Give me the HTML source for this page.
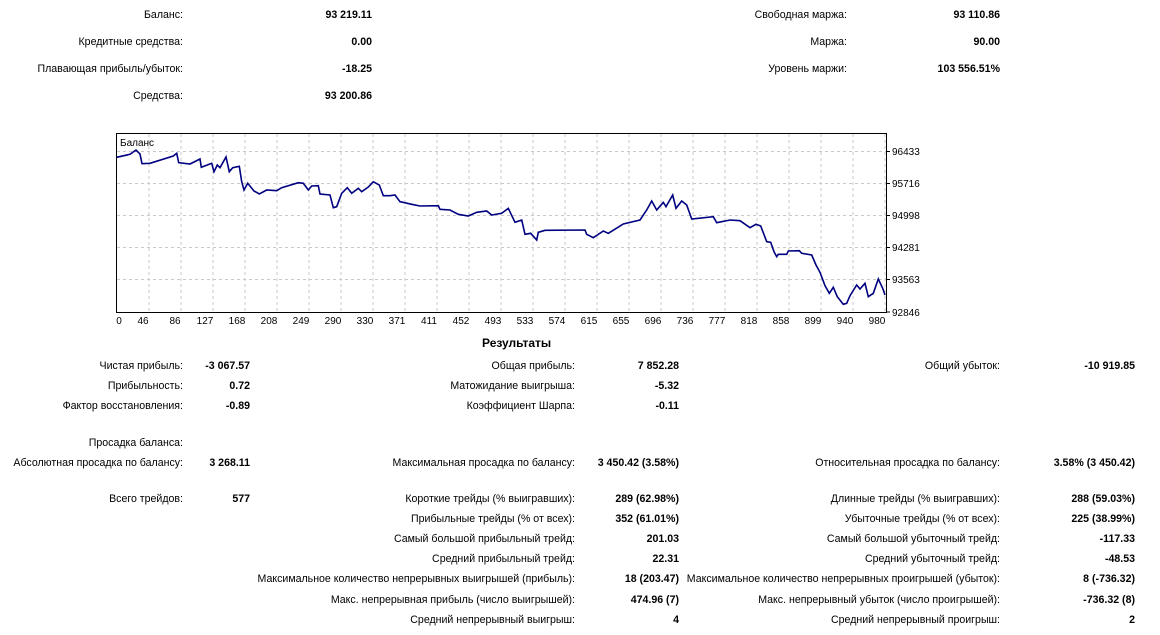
<!DOCTYPE html>
<html><head><meta charset="utf-8"><style>
body{margin:0;width:1160px;height:635px;background:#fff;position:relative;overflow:hidden;font-family:"Liberation Sans","DejaVu Sans",sans-serif;font-size:10.6px;color:#000}
.t{position:absolute;white-space:nowrap;line-height:14px;text-align:right}
.b{font-weight:bold}
</style></head><body>
<div class="t" style="right:977px;top:8px">Баланс:</div><div class="t b" style="right:788px;top:8px">93 219.11</div>
<div class="t" style="right:977px;top:35px">Кредитные средства:</div><div class="t b" style="right:788px;top:35px">0.00</div>
<div class="t" style="right:977px;top:62px">Плавающая прибыль/убыток:</div><div class="t b" style="right:788px;top:62px">-18.25</div>
<div class="t" style="right:977px;top:89px">Средства:</div><div class="t b" style="right:788px;top:89px">93 200.86</div>
<div class="t" style="right:313px;top:8px">Свободная маржа:</div><div class="t b" style="right:160px;top:8px">93 110.86</div>
<div class="t" style="right:313px;top:35px">Маржа:</div><div class="t b" style="right:160px;top:35px">90.00</div>
<div class="t" style="right:313px;top:62px">Уровень маржи:</div><div class="t b" style="right:160px;top:62px">103 556.51%</div>

<svg style="position:absolute;left:0;top:0" width="1160" height="340">
<g stroke="#c8c8c8" stroke-dasharray="3,3" stroke-width="1">
<path d="M149 134V312M181 134V312M213 134V312M245 134V312M277 134V312M309 134V312M341 134V312M373 134V312M405 134V312M437 134V312M469 134V312M501 134V312M533 134V312M565 134V312M597 134V312M629 134V312M661 134V312M693 134V312M725 134V312M757 134V312M789 134V312M821 134V312M853 134V312M885 134V312"/>
<path d="M117 151.5H887M117 183.5H887M117 215.5H887M117 247.5H887M117 279.5H887"/>
</g>
<rect x="116.5" y="133.5" width="770" height="179" fill="none" stroke="#000"/>
<g stroke="#000"><path d="M887 151.5h3M887 183.5h3M887 215.5h3M887 247.5h3M887 279.5h3M887 312h3"/></g>
<text x="120" y="146" font-size="10" font-family="Liberation Sans,sans-serif">Баланс</text>
<polyline fill="none" stroke="#000080" stroke-width="1.6" points="116.7,157.3 130,154.3 136,150 140,154 142,163.7 150,163.3 173.3,156 176.7,153.3 178.7,162.7 190,164 200,159 201.3,167.3 211.7,163.3 214,171.7 217.3,165 220,167.7 226,157 229.3,171.7 232.7,167.7 239.3,166.3 241.7,181.7 244,190 247.7,183.3 254,191 259.3,194 266.7,190 276.7,190.7 281.7,187.7 298.3,182.7 303.3,183.3 308.3,190 311.7,186 318.3,185.7 320,194 330,195 333.3,207.7 336.7,206.7 341.7,193.3 347.3,187.7 351.7,193.3 358.3,188.3 361.7,191.7 368.3,187 373.3,181.7 379.3,185 383.3,195.7 390,195.7 395,195 400,201.7 411.7,204.3 420,206 438.3,205.7 440,209.3 450,210 458.3,214.3 468.3,216 476.7,212.3 486.7,211 491.7,215 501.7,213.3 508.3,208.3 515,222.3 521.7,220 525,234.3 530.7,233.3 536.7,240 538.3,232.3 545,230.3 585,230 586.7,234.3 593.3,237.7 603.3,231 608.3,233.3 623.3,224 640,220 646.7,210 651.7,201 656.7,210 663.3,202.3 666,206.7 672.7,195 676,208.3 681.7,201 686.7,205 691.7,219 713.3,216.7 716.7,222.7 730,220 740,220.7 750,227.7 756,224.3 760.7,226 766.7,241.7 770.7,242.3 774,251.7 776.7,256.7 778.3,254.3 786.7,254.3 788.3,251 799.3,250.7 801.7,253.3 811.7,255 816,265 820,272.3 825,285.7 829.3,293.3 833.3,287.3 837.3,296.7 843.3,304.3 846.7,303.3 850,295.7 856.7,285 860,289 865,283.3 868.3,296.7 873.3,293.3 878.3,279 882.7,288.3 885,295"/>
<g font-size="10" font-family="Liberation Sans,sans-serif">
<g text-anchor="start"><text x="892" y="155">96433</text><text x="892" y="187">95716</text><text x="892" y="219">94998</text><text x="892" y="251">94281</text><text x="892" y="283">93563</text><text x="892" y="316">92846</text></g>
<g text-anchor="middle">
<text x="119" y="324">0</text><text x="143" y="324">46</text><text x="175" y="324">86</text><text x="205" y="324">127</text><text x="237" y="324">168</text><text x="269" y="324">208</text><text x="301" y="324">249</text><text x="333" y="324">290</text><text x="365" y="324">330</text><text x="397" y="324">371</text><text x="429" y="324">411</text><text x="461" y="324">452</text><text x="493" y="324">493</text><text x="525" y="324">533</text><text x="557" y="324">574</text><text x="589" y="324">615</text><text x="621" y="324">655</text><text x="653" y="324">696</text><text x="685" y="324">736</text><text x="717" y="324">777</text><text x="749" y="324">818</text><text x="781" y="324">858</text><text x="813" y="324">899</text><text x="845" y="324">940</text><text x="877" y="324">980</text>
</g></g>
</svg>

<div class="t b" style="left:482px;top:336px;font-size:12px">Результаты</div>

<div class="t" style="right:977px;top:359px">Чистая прибыль:</div><div class="t b" style="right:910px;top:359px">-3 067.57</div>
<div class="t" style="right:977px;top:379px">Прибыльность:</div><div class="t b" style="right:910px;top:379px">0.72</div>
<div class="t" style="right:977px;top:399px">Фактор восстановления:</div><div class="t b" style="right:910px;top:399px">-0.89</div>
<div class="t" style="right:977px;top:436px">Просадка баланса:</div>
<div class="t" style="right:977px;top:456px">Абсолютная просадка по балансу:</div><div class="t b" style="right:910px;top:456px">3 268.11</div>
<div class="t" style="right:977px;top:492px">Всего трейдов:</div><div class="t b" style="right:910px;top:492px">577</div>

<div class="t" style="right:585px;top:359px">Общая прибыль:</div><div class="t b" style="right:481px;top:359px">7 852.28</div>
<div class="t" style="right:585px;top:379px">Матожидание выигрыша:</div><div class="t b" style="right:481px;top:379px">-5.32</div>
<div class="t" style="right:585px;top:399px">Коэффициент Шарпа:</div><div class="t b" style="right:481px;top:399px">-0.11</div>
<div class="t" style="right:585px;top:456px">Максимальная просадка по балансу:</div><div class="t b" style="right:481px;top:456px">3 450.42 (3.58%)</div>
<div class="t" style="right:585px;top:492px">Короткие трейды (% выигравших):</div><div class="t b" style="right:481px;top:492px">289 (62.98%)</div>
<div class="t" style="right:585px;top:512px">Прибыльные трейды (% от всех):</div><div class="t b" style="right:481px;top:512px">352 (61.01%)</div>
<div class="t" style="right:585px;top:532px">Самый большой прибыльный трейд:</div><div class="t b" style="right:481px;top:532px">201.03</div>
<div class="t" style="right:585px;top:552px">Средний прибыльный трейд:</div><div class="t b" style="right:481px;top:552px">22.31</div>
<div class="t" style="right:585px;top:572px">Максимальное количество непрерывных выигрышей (прибыль):</div><div class="t b" style="right:481px;top:572px">18 (203.47)</div>
<div class="t" style="right:585px;top:593px">Макс. непрерывная прибыль (число выигрышей):</div><div class="t b" style="right:481px;top:593px">474.96 (7)</div>
<div class="t" style="right:585px;top:613px">Средний непрерывный выигрыш:</div><div class="t b" style="right:481px;top:613px">4</div>

<div class="t" style="right:160px;top:359px">Общий убыток:</div><div class="t b" style="right:25px;top:359px">-10 919.85</div>
<div class="t" style="right:160px;top:456px">Относительная просадка по балансу:</div><div class="t b" style="right:25px;top:456px">3.58% (3 450.42)</div>
<div class="t" style="right:160px;top:492px">Длинные трейды (% выигравших):</div><div class="t b" style="right:25px;top:492px">288 (59.03%)</div>
<div class="t" style="right:160px;top:512px">Убыточные трейды (% от всех):</div><div class="t b" style="right:25px;top:512px">225 (38.99%)</div>
<div class="t" style="right:160px;top:532px">Самый большой убыточный трейд:</div><div class="t b" style="right:25px;top:532px">-117.33</div>
<div class="t" style="right:160px;top:552px">Средний убыточный трейд:</div><div class="t b" style="right:25px;top:552px">-48.53</div>
<div class="t" style="right:160px;top:572px">Максимальное количество непрерывных проигрышей (убыток):</div><div class="t b" style="right:25px;top:572px">8 (-736.32)</div>
<div class="t" style="right:160px;top:593px">Макс. непрерывный убыток (число проигрышей):</div><div class="t b" style="right:25px;top:593px">-736.32 (8)</div>
<div class="t" style="right:160px;top:613px">Средний непрерывный проигрыш:</div><div class="t b" style="right:25px;top:613px">2</div>
</body></html>
